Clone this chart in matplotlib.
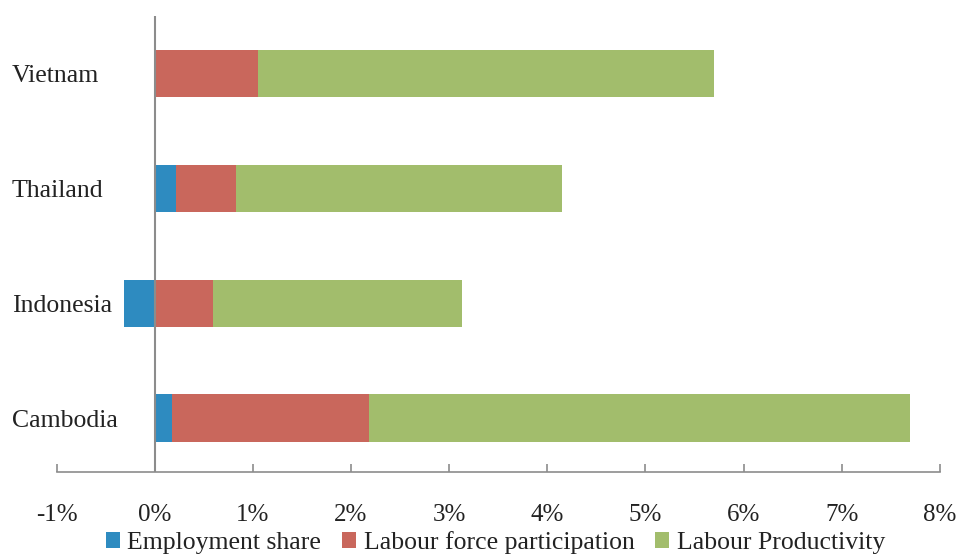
import matplotlib
matplotlib.use("Agg")
import matplotlib.pyplot as plt
import matplotlib.transforms as mtransforms
import numpy as np

countries = ["Cambodia", "Indonesia", "Thailand", "Vietnam"]
employment_share = [0.18, -0.31, 0.22, 0.0]
labour_force = [2.00, 0.59, 0.61, 1.05]
labour_productivity = [5.52, 2.54, 3.32, 4.65]
xticks = [-1, 0, 1, 2, 3, 4, 5, 6, 7, 8]
xtick_labels = [f"{t}%" for t in xticks]
series_names = ["Employment share", "Labour force participation", "Labour Productivity"]
colors = ["#2E8BC0", "#C9675C", "#A2BD6C"]

plt.rcParams['font.family'] = ['Liberation Serif', 'DejaVu Serif']

fig = plt.figure(figsize=(9.6, 5.55), dpi=100)
ax = fig.add_axes([0.059, 0.1495, 0.92, 0.822])

y = np.arange(len(countries))
h = 0.41
es = np.array(employment_share)
lf = np.array(labour_force)
lp = np.array(labour_productivity)
pos_base = np.maximum(es, 0)

b1 = ax.barh(y, es, height=h, color=colors[0], label=series_names[0], zorder=2)
b2 = ax.barh(y, lf, left=pos_base, height=h, color=colors[1], label=series_names[1], zorder=2)
b3 = ax.barh(y, lp, left=pos_base + lf, height=h, color=colors[2], label=series_names[2], zorder=2)

ax.set_xlim(-1, 8)
ax.set_ylim(-0.47, 3.5)
ax.set_xticks(xticks)
ax.set_xticklabels(xtick_labels)
ax.set_yticks([])

trans = mtransforms.blended_transform_factory(fig.transFigure, ax.transData)
for yi, name in zip(y, countries):
    ax.text(12 / 960, yi, name, transform=trans, ha="left", va="center_baseline",
            fontsize=18.5, color="#222222")

for s in ["top", "right", "left"]:
    ax.spines[s].set_visible(False)
ax.spines["bottom"].set_color("#8c8c8c")
ax.spines["bottom"].set_linewidth(1.2)
ax.axvline(0, color="#8c8c8c", lw=1.5, zorder=3)

ax.tick_params(axis="x", direction="in", length=6, width=1.2, color="#8c8c8c",
               labelsize=18, pad=23, labelcolor="#222222")

fig.legend(handles=[b1, b2, b3], labels=series_names, loc="lower center",
           bbox_to_anchor=(0.516, -0.04), ncol=3, frameon=False, fontsize=18.5,
           handlelength=0.55, handleheight=0.6, handletextpad=0.3, columnspacing=0.8,
           labelcolor="#222222")

fig.savefig("out.png", dpi=100)
